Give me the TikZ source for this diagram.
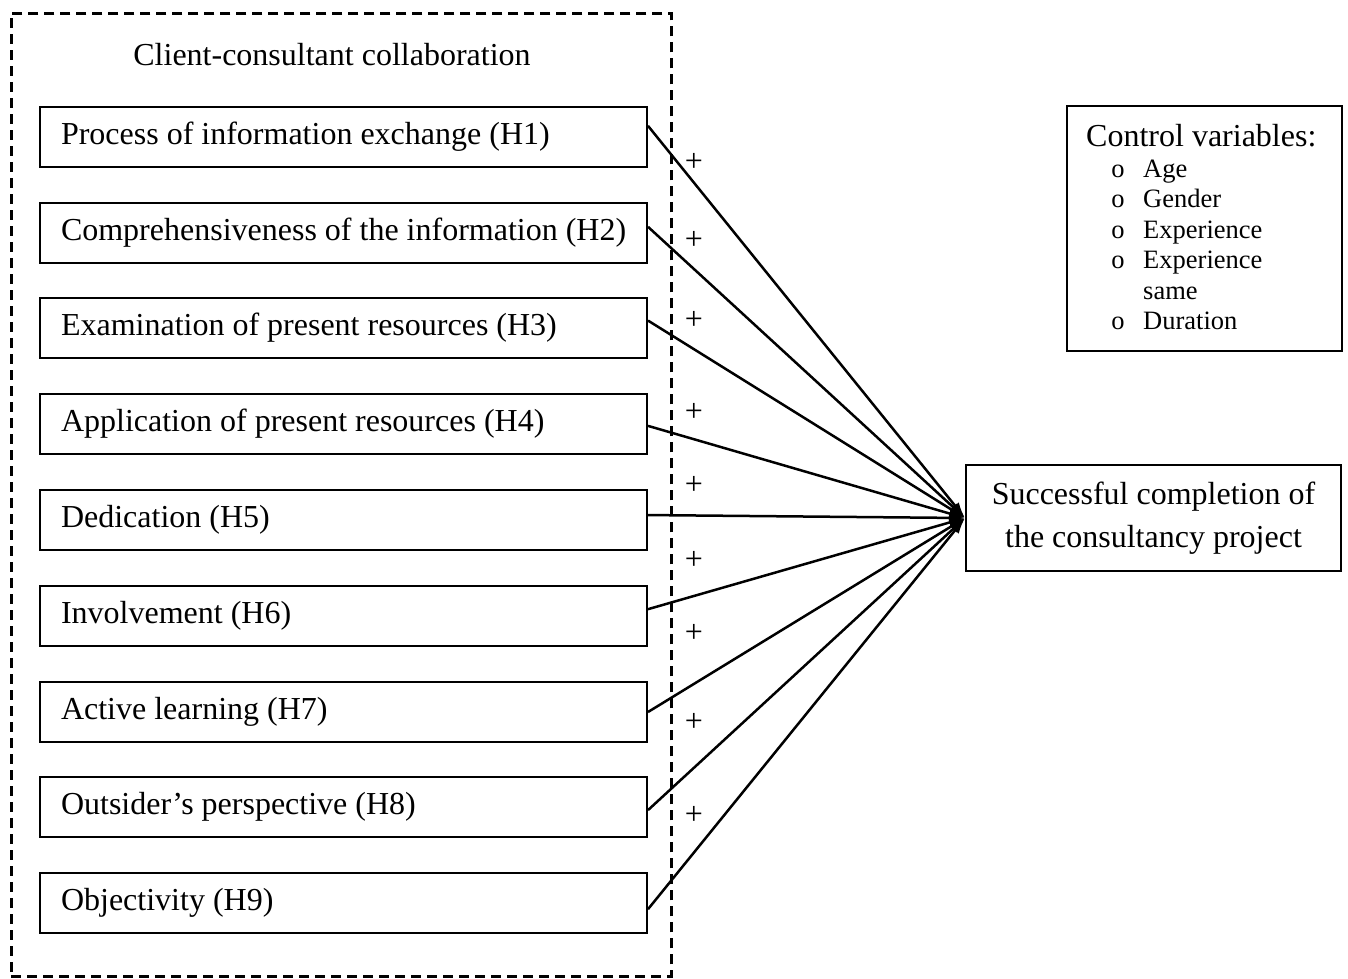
\documentclass[tikz,border=0pt]{standalone}
\usepackage{fontspec}
\setmainfont{Liberation Serif}
\usetikzlibrary{arrows.meta,calc}
\begin{document}
\begin{tikzpicture}[x=1pt,y=-1pt,
  hbox/.style={draw, line width=2pt, anchor=north west, minimum width=607pt, minimum height=60pt, inner xsep=21pt, inner ysep=0pt, font=\fontsize{32}{38}\selectfont},
  link/.style={line width=2.5pt, -{Latex[length=16pt,width=10pt]}},
  plus/.style={font=\fontsize{32}{34}\selectfont, inner sep=0pt},
  bigtext/.style={font=\fontsize{32}{43}\selectfont},
  listtext/.style={font=\fontsize{26.5}{30}\selectfont, anchor=base west, inner sep=0pt},
  bullet/.style={font=\fontsize{26.5}{30}\selectfont, anchor=base, inner sep=0pt}]
\useasboundingbox (0,0) rectangle (1348,978);
% dashed frame
\node[draw, line width=2.5pt, dash pattern=on 10pt off 6pt, minimum width=660pt, minimum height=963pt, anchor=north west, inner sep=0pt] (frame) at (10,12) {};
\node[bigtext] (title) at (332,55) {Client-consultant collaboration};
% target
\node[draw, line width=2pt, minimum width=375pt, minimum height=106pt, align=center, bigtext, inner sep=0pt] (target) at (1153.5,518) {Successful completion of\\the consultancy project};
% boxes, pluses and links
\foreach \i/\t/\y/\f/\py in {
  1/{Process of information exchange (H1)}/106/0.32/162,
  2/{Comprehensiveness of the information (H2)}/202/0.40/240,
  3/{Examination of present resources (H3)}/297/0.38/320,
  4/{Application of present resources (H4)}/393/0.53/412,
  5/{Dedication (H5)}/489/0.42/485,
  6/{Involvement (H6)}/585/0.39/560,
  7/{Active learning (H7)}/681/0.50/633,
  8/{Outsider’s perspective (H8)}/776/0.55/722,
  9/{Objectivity (H9)}/872/0.60/815}{
  \node[hbox] (b\i) at (39,\y) {\makebox[565pt][l]{\t}};
  \node[plus] (p\i) at (694,\py) {+};
  \draw[link] ($(b\i.north east)!\f!(b\i.south east)$) -- (target.west);
}
% control variables
\node[draw, line width=2pt, minimum width=275pt, minimum height=245pt, anchor=north west, inner sep=0pt] (ctrl) at (1066,105) {};
\node[font=\fontsize{32}{38}\selectfont, anchor=base west, inner sep=0pt] (ctitle) at (1086,146) {Control variables:};
\node[bullet] (o1) at (1118,177) {o};
\node[listtext] (c1) at (1143,177) {Age};
\node[bullet] (o2) at (1118,207.5) {o};
\node[listtext] (c2) at (1143,207.5) {Gender};
\node[bullet] (o3) at (1118,238) {o};
\node[listtext] (c3) at (1143,238) {Experience};
\node[bullet] (o4) at (1118,268.5) {o};
\node[listtext] (c4) at (1143,268.5) {Experience};
\node[listtext] (c4b) at (1143,299) {same};
\node[bullet] (o5) at (1118,329.5) {o};
\node[listtext] (c5) at (1143,329.5) {Duration};
\end{tikzpicture}
\end{document}
